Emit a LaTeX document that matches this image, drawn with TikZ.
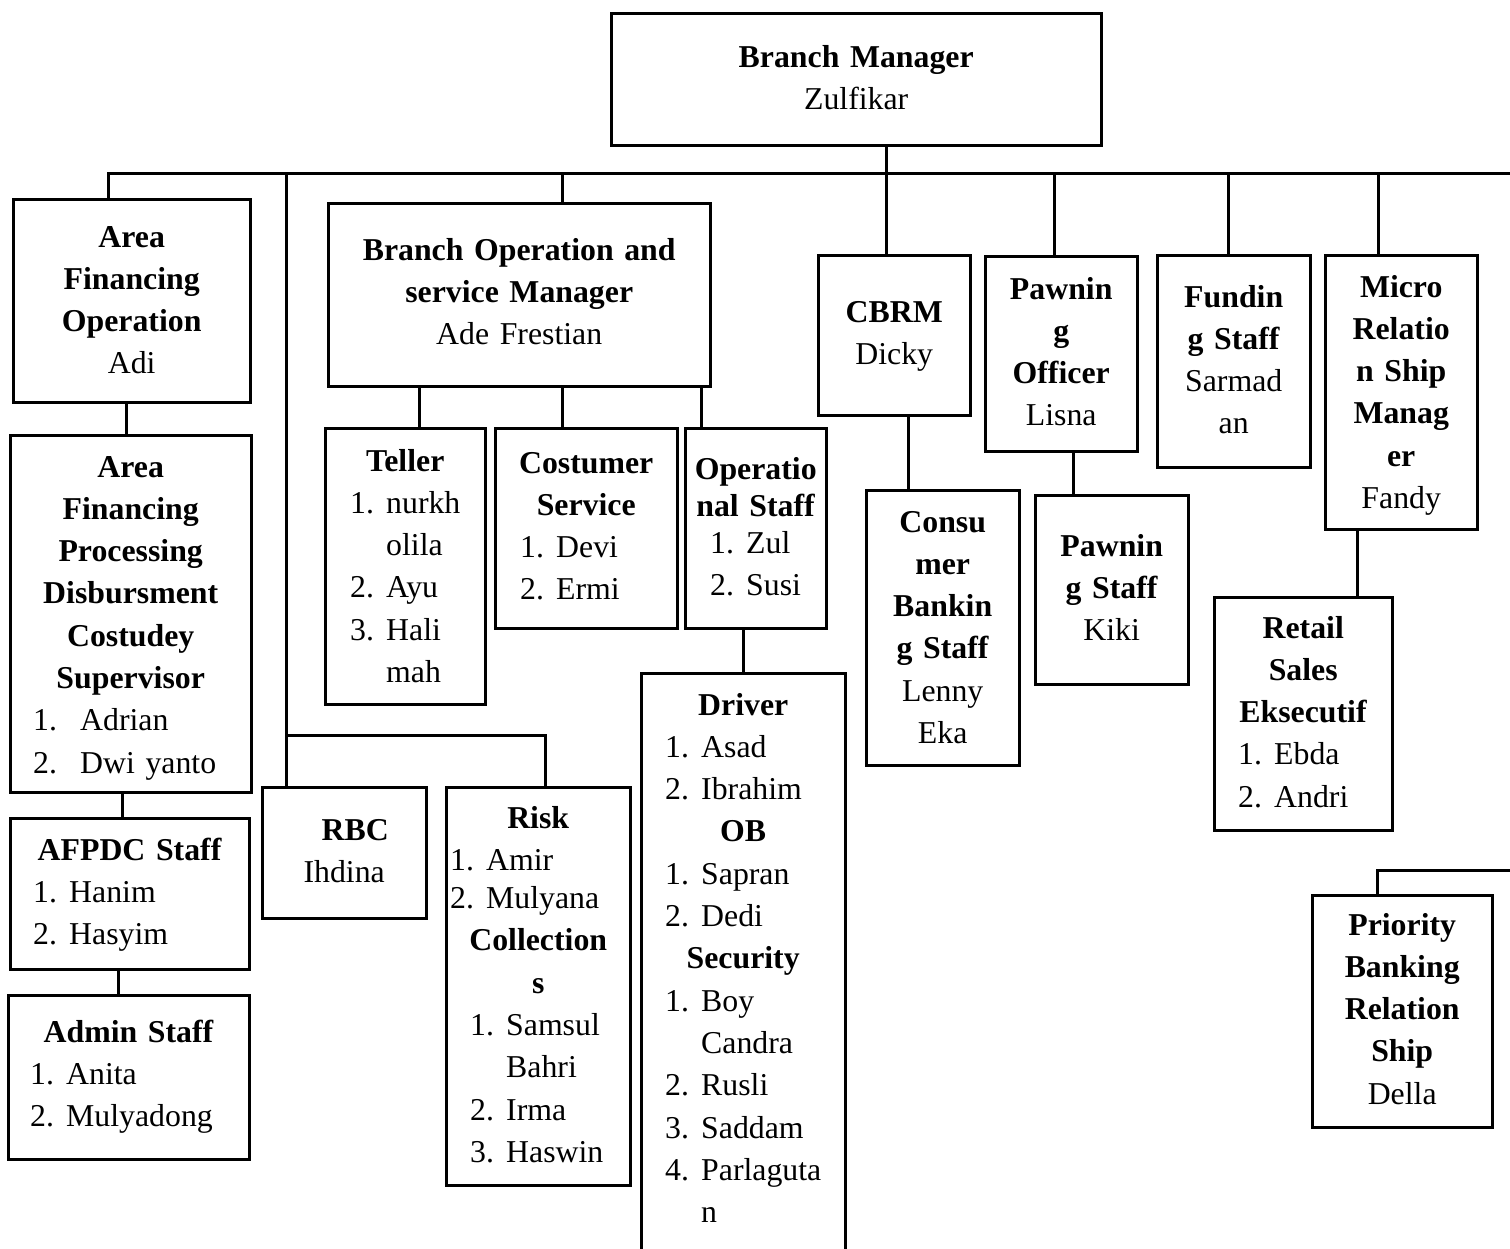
\documentclass[tikz,border=0pt]{standalone}
\usepackage{fontspec}
\setmainfont{Liberation Serif}
\newcommand{\orgitem}[3][24pt]{\makebox[\hsize][l]{\hspace*{#1}\makebox[36pt][l]{#2}#3}}
\begin{document}
\begin{tikzpicture}[x=1pt,y=1pt]
    \tikzstyle{box}=[draw, line width=3pt, inner sep=0pt, outer sep=0pt, anchor=north west]
    \tikzstyle{txt}=[anchor=base west, inner sep=0pt, align=center, font=\fontsize{31.8}{42.3}\selectfont]
    \tikzstyle{link}=[line width=3pt]
    \path[use as bounding box, fill=white] (0,0) rectangle (1510,-1248);
    \node[box, minimum width=490pt, minimum height=132pt] (bm) at (611,-13) {};
    \node[txt, text width=490pt] (bm-t) at (611,-67) {\textbf{Branch Manager}\\Zulfikar};
    \node[box, minimum width=237pt, minimum height=203pt] (afo) at (13,-199) {};
    \node[txt, text width=237pt] (afo-t) at (13,-247) {\textbf{Area}\\\textbf{Financing}\\\textbf{Operation}\\Adi};
    \node[box, minimum width=241pt, minimum height=357pt] (afpd) at (10,-435) {};
    \node[txt, text width=241pt] (afpd-t) at (10,-477) {\textbf{Area}\\\textbf{Financing}\\\textbf{Processing}\\\textbf{Disbursment}\\\textbf{Costudey}\\\textbf{Supervisor}\\\orgitem[23pt]{1.}{\hspace*{11pt}Adrian}\\\orgitem[23pt]{2.}{\hspace*{11pt}Dwi yanto}};
    \node[box, minimum width=239pt, minimum height=151pt] (afpdc) at (10,-818) {};
    \node[txt, text width=239pt] (afpdc-t) at (10,-860) {\textbf{AFPDC Staff}\\\orgitem[23pt]{1.}{Hanim}\\\orgitem[23pt]{2.}{Hasyim}};
    \node[box, minimum width=241pt, minimum height=164pt] (admin) at (8,-995) {};
    \node[txt, text width=241pt] (admin-t) at (8,-1042) {\textbf{Admin Staff}\\\orgitem[22pt]{1.}{Anita}\\\orgitem[22pt]{2.}{Mulyadong}};
    \node[box, minimum width=164pt, minimum height=131pt] (rbc) at (262,-787) {};
    \node[txt, text width=164pt] (rbc-t) at (262,-840) {\hspace*{22pt}\textbf{RBC}\\Ihdina\hspace*{8pt}};
    \node[box, minimum width=184pt, minimum height=398pt] (risk) at (446,-787) {};
    \node[txt, text width=184pt] (risk-t) at (446,-828) {\textbf{Risk}\\\orgitem[4pt]{1.}{Amir}\\[-4pt]\orgitem[4pt]{2.}{Mulyana}\\\textbf{Collection}\\\textbf{s}\\\orgitem{1.}{Samsul}\\\orgitem{}{Bahri}\\\orgitem{2.}{Irma}\\\orgitem{3.}{Haswin}};
    \node[box, minimum width=382pt, minimum height=183pt] (bosm) at (328,-203) {};
    \node[txt, text width=382pt] (bosm-t) at (328,-260) {\textbf{Branch Operation and}\\\textbf{service Manager}\\Ade Frestian};
    \node[box, minimum width=160pt, minimum height=276pt] (teller) at (325,-428) {};
    \node[txt, text width=160pt] (teller-t) at (325,-471) {\textbf{Teller}\\\orgitem[25pt]{1.}{nurkh}\\\orgitem[25pt]{}{olila}\\\orgitem[25pt]{2.}{Ayu}\\\orgitem[25pt]{3.}{Hali}\\\orgitem[25pt]{}{mah}};
    \node[box, minimum width=182pt, minimum height=200pt] (cs) at (495,-428) {};
    \node[txt, text width=182pt] (cs-t) at (495,-473) {\textbf{Costumer}\\\textbf{Service}\\\orgitem[25pt]{1.}{Devi}\\\orgitem[25pt]{2.}{Ermi}};
    \node[box, minimum width=141pt, minimum height=200pt] (ops) at (685,-428) {};
    \node[txt, text width=141pt] (ops-t) at (685,-479) {\textbf{Operatio}\\[-5pt]\textbf{nal Staff}\\[-5pt]\orgitem[25pt]{1.}{Zul}\\\orgitem[25pt]{2.}{Susi}};
    \node[box, minimum width=204pt, minimum height=590pt] (driver) at (641,-673) {};
    \node[txt, text width=204pt] (driver-t) at (641,-715) {\textbf{Driver}\\\orgitem{1.}{Asad}\\\orgitem{2.}{Ibrahim}\\\textbf{OB}\\\orgitem{1.}{Sapran}\\\orgitem{2.}{Dedi}\\\textbf{Security}\\\orgitem{1.}{Boy}\\\orgitem{}{Candra}\\\orgitem{2.}{Rusli}\\\orgitem{3.}{Saddam}\\\orgitem{4.}{Parlaguta}\\\orgitem{}{n}};
    \node[box, minimum width=152pt, minimum height=160pt] (cbrm) at (818,-255) {};
    \node[txt, text width=152pt] (cbrm-t) at (818,-322) {\textbf{CBRM}\\Dicky};
    \node[box, minimum width=153pt, minimum height=275pt] (cbs) at (866,-490) {};
    \node[txt, text width=153pt] (cbs-t) at (866,-532) {\textbf{Consu}\\\textbf{mer}\\\textbf{Bankin}\\\textbf{g Staff}\\Lenny\\Eka};
    \node[box, minimum width=152pt, minimum height=195pt] (po) at (985,-256) {};
    \node[txt, text width=152pt] (po-t) at (985,-299) {\textbf{Pawnin}\\\textbf{g}\\\textbf{Officer}\\Lisna};
    \node[box, minimum width=153pt, minimum height=189pt] (ps) at (1035,-495) {};
    \node[txt, text width=153pt] (ps-t) at (1035,-556) {\textbf{Pawnin}\\\textbf{g Staff}\\Kiki};
    \node[box, minimum width=153pt, minimum height=212pt] (fs) at (1157,-255) {};
    \node[txt, text width=153pt] (fs-t) at (1157,-307) {\textbf{Fundin}\\\textbf{g Staff}\\Sarmad\\an};
    \node[box, minimum width=152pt, minimum height=274pt] (mrsm) at (1325,-255) {};
    \node[txt, text width=152pt] (mrsm-t) at (1325,-297) {\textbf{Micro}\\\textbf{Relatio}\\\textbf{n Ship}\\\textbf{Manag}\\\textbf{er}\\Fandy};
    \node[box, minimum width=178pt, minimum height=233pt] (rse) at (1214,-597) {};
    \node[txt, text width=178pt] (rse-t) at (1214,-638) {\textbf{Retail}\\\textbf{Sales}\\\textbf{Eksecutif}\\\orgitem{1.}{Ebda}\\\orgitem{2.}{Andri}};
    \node[box, minimum width=180pt, minimum height=232pt] (pbrs) at (1312,-895) {};
    \node[txt, text width=180pt] (pbrs-t) at (1312,-935) {\textbf{Priority}\\\textbf{Banking}\\\textbf{Relation}\\\textbf{Ship}\\Della};
    \coordinate (hub) at (886,-173);
    \coordinate (busL) at (108,-173);
    \coordinate (busR) at (1510,-173);
    \coordinate (rb) at (286,-173);
    \coordinate (rbk) at (286,-735);
    \coordinate (rsk) at (545,-735);
    \coordinate (d3) at (562,-173);
    \coordinate (d5) at (1054,-173);
    \coordinate (d6) at (1228,-173);
    \coordinate (d7) at (1378,-173);
    \coordinate (pbR) at (1510,-870);
    \draw[link] (afo.north -| busL) -- (busL) -- (busR);
    \draw[link] (bm.south -| hub) -- (hub) -- (cbrm.north -| hub);
    \draw[link] (rb) -- (rbk) -- (rsk) -- (risk.north -| rsk);
    \draw[link] (rbk) -- (rbc.north -| rbk);
    \draw[link] (d3) -- (bosm.north -| d3);
    \draw[link] (d5) -- (po.north -| d5);
    \draw[link] (d6) -- (fs.north -| d6);
    \draw[link] (d7) -- (mrsm.north -| d7);
    \draw[link] ([xshift=-5pt]afo.south) |- (afpd.north);
    \draw[link] ([xshift=-8pt]afpd.south) |- (afpdc.north);
    \draw[link] ([xshift=-11pt]afpdc.south) |- (admin.north);
    \draw[link] ([xshift=-100pt]bosm.south) |- (teller.north);
    \draw[link] ([xshift=43pt]bosm.south) |- (cs.north);
    \draw[link] ([xshift=182pt]bosm.south) |- (ops.north);
    \draw[link] ([xshift=-12pt]ops.south) |- (driver.north);
    \draw[link] ([xshift=14pt]cbrm.south) |- (cbs.north);
    \draw[link] ([xshift=12pt]po.south) |- (ps.north);
    \draw[link] ([xshift=-44pt]mrsm.south) |- (rse.north);
    \draw[link] (pbR) -| ([xshift=-25pt]pbrs.north);
\end{tikzpicture}
\end{document}
